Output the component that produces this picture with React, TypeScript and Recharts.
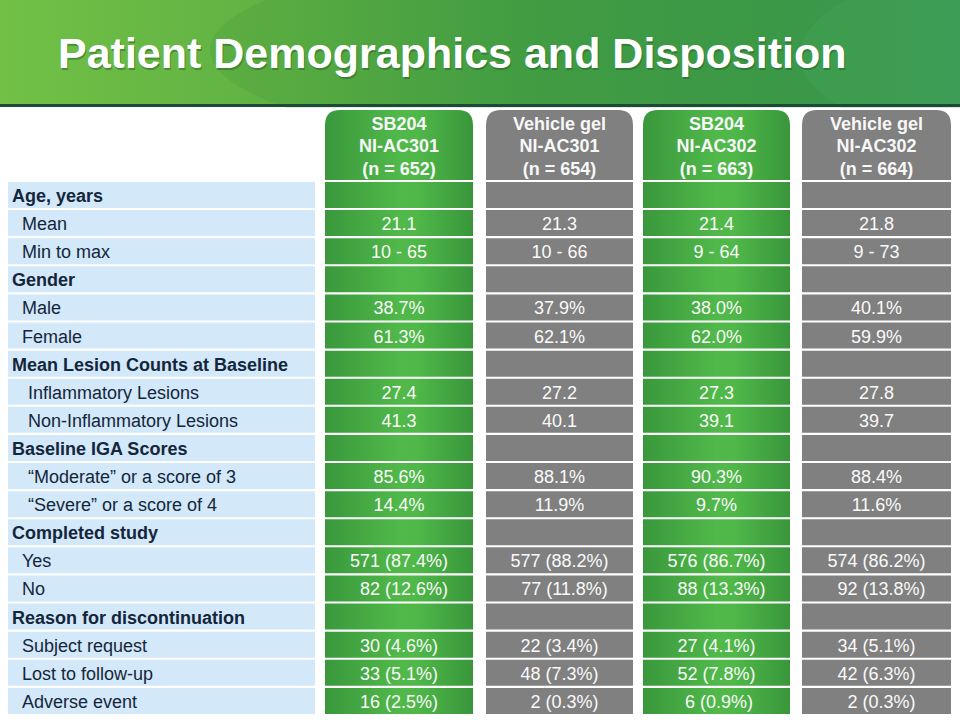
import { BarChart, Bar, XAxis, YAxis, LabelList } from 'recharts'

// row labels, level 0 = section heading
const rowLabels = [
    'Age, years', 'Mean', 'Min to max',
    'Gender', 'Male', 'Female',
    'Mean Lesion Counts at Baseline', 'Inflammatory Lesions', 'Non-Inflammatory Lesions',
    'Baseline IGA Scores', '\u201cModerate\u201d or a score of 3', '\u201cSevere\u201d or a score of 4',
    'Completed study', 'Yes', 'No',
    'Reason for discontinuation', 'Subject request', 'Lost to follow-up', 'Adverse event',
]
const rowLevels = [0, 1, 1, 0, 1, 1, 0, 2, 2, 0, 2, 2, 0, 1, 1, 0, 1, 1, 1]

const sb301 = ['', '21.1', '10 - 65', '', '38.7%', '61.3%', '', '27.4', '41.3', '', '85.6%', '14.4%', '', '571 (87.4%)', '  82 (12.6%)', '', '30 (4.6%)', '33 (5.1%)', '16 (2.5%)']
const veh301 = ['', '21.3', '10 - 66', '', '37.9%', '62.1%', '', '27.2', '40.1', '', '88.1%', '11.9%', '', '577 (88.2%)', '  77 (11.8%)', '', '22 (3.4%)', '48 (7.3%)', '  2 (0.3%)']
const sb302 = ['', '21.4', '9 - 64', '', '38.0%', '62.0%', '', '27.3', '39.1', '', '90.3%', '9.7%', '', '576 (86.7%)', '  88 (13.3%)', '', '27 (4.1%)', '52 (7.8%)', ' 6 (0.9%)']
const veh302 = ['', '21.8', '9 - 73', '', '40.1%', '59.9%', '', '27.8', '39.7', '', '88.4%', '11.6%', '', '574 (86.2%)', '  92 (13.8%)', '', '34 (5.1%)', '42 (6.3%)', '  2 (0.3%)']

const colNames = ['SB204', 'Vehicle gel', 'SB204', 'Vehicle gel']
const colStudies = ['NI-AC301', 'NI-AC301', 'NI-AC302', 'NI-AC302']
const colN = [652, 654, 663, 664]

// layout (pixels along the x axis, plot starts at x = 8)
const LABEL_W = 307
const GAPS = [10, 13, 10, 12]
const COL_W = [148, 147, 147, 149]
const TOTAL = LABEL_W + GAPS.reduce((a, b) => a + b, 0) + COL_W.reduce((a, b) => a + b, 0)
const colCenters: number[] = []
{
    let pos = LABEL_W
    COL_W.forEach((w, i) => {
        pos += GAPS[i]
        colCenters.push(pos + w / 2)
        pos += w
    })
}
const COL_FILLS = ['url(#colGreen)', '#808080', 'url(#colGreen)', '#808080']
const HEADER_TOP = 110
const HEADER_BOTTOM = 180
const FONT = '"Liberation Sans", Arial, sans-serif'

const data = rowLabels.map((label, i) => ({
    label,
    c0: sb301[i],
    c1: veh301[i],
    c2: sb302[i],
    c3: veh302[i],
}))

function HeaderTick(props: any) {
    const { x, payload } = props
    const i = colCenters.indexOf(payload.value)
    if (i < 0) return null
    const w = COL_W[i]
    const l = x - w / 2
    const r = x + w / 2
    const rad = 15
    const d = `M${l},${HEADER_BOTTOM} L${l},${HEADER_TOP + rad} Q${l},${HEADER_TOP} ${l + rad},${HEADER_TOP} L${r - rad},${HEADER_TOP} Q${r},${HEADER_TOP} ${r},${HEADER_TOP + rad} L${r},${HEADER_BOTTOM} Z`
    const lines = [colNames[i], colStudies[i], `(n = ${colN[i]})`]
    return (
        <g>
            <path d={d} fill={COL_FILLS[i]} />
            {lines.map((t, k) => (
                <text key={k} x={x} y={129.5 + k * 22.8} textAnchor="middle" fontFamily={FONT}
                    fontSize={18} fontWeight="bold" fill="#f7f7f7">{t}</text>
            ))}
        </g>
    )
}

const renderRowLabel = (props: any) => {
    const { x, y, height, value, index } = props
    const level = rowLevels[index]
    const dx = level === 0 ? 4 : level === 1 ? 14 : 20
    return (
        <text x={x + dx} y={y + height / 2 + 7} fontFamily={FONT} fontSize={18}
            fontWeight={level === 0 ? 'bold' : 'normal'} fill="#13263b">{value}</text>
    )
}

const renderCell = (props: any) => {
    const { x, y, width, height, value } = props
    if (!value) return null
    return (
        <text x={x + width / 2} y={y + height / 2 + 7} textAnchor="middle" fontFamily={FONT}
            fontSize={18} fill="#fafafa" style={{ whiteSpace: 'pre' }}>{value}</text>
    )
}

function Banner() {
    return (
        <svg width={960} height={108} style={{ position: 'absolute', left: 0, top: 0 }}>
            <defs>
                <linearGradient id="bannerGrad" x1="0" x2="1" y1="0" y2="0">
                    <stop offset="0%" stopColor="#72c046" />
                    <stop offset="30%" stopColor="#5eb143" />
                    <stop offset="55%" stopColor="#44a044" />
                    <stop offset="80%" stopColor="#3d9b49" />
                    <stop offset="100%" stopColor="#3a9c57" />
                </linearGradient>
            </defs>
            <rect x={0} y={0} width={960} height={105} fill="url(#bannerGrad)" />
            <ellipse cx={720} cy={50} rx={510} ry={110} fill="#2f8a3a" opacity={0.14} />
            <ellipse cx={1080} cy={55} rx={280} ry={100} fill="#5fbf72" opacity={0.12} />
            <text x={59} y={69.5} fontFamily={FONT} fontSize={43} fontWeight="bold" fill="#1d5a25" opacity={0.45}>
                Patient Demographics and Disposition
            </text>
            <text x={58} y={68} fontFamily={FONT} fontSize={43} fontWeight="bold" fill="#ffffff">
                Patient Demographics and Disposition
            </text>
            <rect x={0} y={104} width={960} height={3} fill="#1b4a36" />
        </svg>
    )
}

export default function App() {
    return (
        <div style={{ position: 'absolute', left: 0, top: 0, width: 960, height: 720, background: '#ffffff', overflow: 'hidden' }}>
            <svg width={0} height={0} style={{ position: 'absolute' }}>
                <defs>
                    <linearGradient id="colGreen" x1="0" x2="1" y1="0" y2="0">
                        <stop offset="0%" stopColor="#3a983c" />
                        <stop offset="50%" stopColor="#50b94a" />
                        <stop offset="62%" stopColor="#4fb849" />
                        <stop offset="100%" stopColor="#39963b" />
                    </linearGradient>
                </defs>
            </svg>
            <Banner />
            <div style={{ position: 'absolute', left: 0, top: 0 }}>
                <BarChart
                    width={960}
                    height={720}
                    data={data}
                    layout="vertical"
                    margin={{ top: 109, right: 960 - 8 - TOTAL, bottom: 5, left: 8 }}
                    barCategoryGap={1}
                >
                    <XAxis
                        type="number"
                        orientation="top"
                        domain={[0, TOTAL]}
                        ticks={colCenters}
                        interval={0}
                        height={72}
                        axisLine={false}
                        tickLine={false}
                        tick={<HeaderTick />}
                    />
                    <YAxis type="category" dataKey="label" hide />
                    <Bar dataKey={() => LABEL_W} stackId="row" fill="#d3e8f9" isAnimationActive={false}>
                        <LabelList dataKey="label" content={renderRowLabel} />
                    </Bar>
                    {COL_W.map((w, i) => [
                        <Bar key={`gap${i}`} dataKey={() => GAPS[i]} stackId="row" fill="none" isAnimationActive={false} />,
                        <Bar key={`col${i}`} dataKey={() => w} stackId="row" fill={COL_FILLS[i]} isAnimationActive={false}>
                            <LabelList dataKey={`c${i}`} content={renderCell} />
                        </Bar>,
                    ])}
                </BarChart>
            </div>
        </div>
    )
}
